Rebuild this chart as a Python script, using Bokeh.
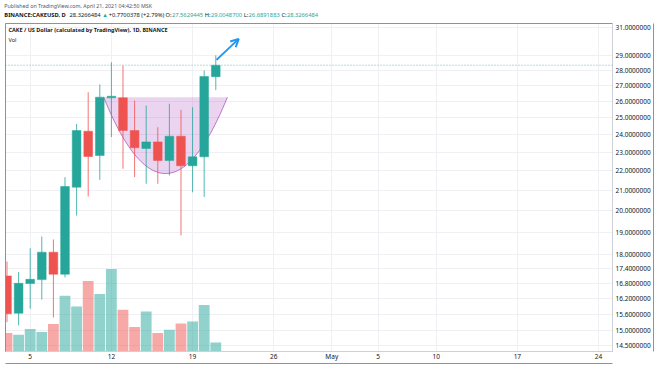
import pandas as pd
import numpy as np
from bokeh.plotting import figure
from bokeh.layouts import column
from bokeh.models import (ColumnDataSource, Range1d, LinearScale, FixedTicker, PrintfTickFormatter,
                          Label, Span, Arrow, OpenHead, LinearAxis)
from bokeh.core.properties import value
from bokeh.embed import file_html
from bokeh.resources import INLINE

# ---------------- data ----------------
dates = pd.date_range("2021-04-03", "2021-04-21", freq="D")
opens  = [17.11, 15.65, 16.80, 16.96, 18.11, 17.18, 21.16, 24.19, 22.82, 26.20, 26.20, 24.23, 23.21, 23.58, 22.55, 23.90, 22.27, 22.75, 27.5629445]
highs  = [17.71, 17.27, 18.28, 18.80, 18.67, 21.67, 24.62, 26.55, 27.05, 28.53, 28.31, 26.03, 25.72, 24.42, 25.83, 25.46, 25.62, 27.97, 29.0048700]
lows   = [15.32, 15.20, 15.82, 16.17, 15.49, 17.05, 19.77, 20.69, 21.53, 23.85, 22.11, 21.67, 21.33, 21.33, 21.76, 18.85, 20.90, 20.67, 26.6891883]
closes = [15.63, 16.81, 16.97, 18.11, 17.18, 21.19, 24.23, 22.77, 26.24, 26.30, 24.23, 23.25, 23.58, 22.55, 23.90, 22.27, 22.75, 27.57, 28.3266484]
volumes = [18.4, 16.7, 22.4, 19.4, 27.4, 55.7, 45.0, 70.4, 57.4, 82.4, 41.7, 24.4, 40.0, 18.4, 21.7, 28.0, 30.0, 46.4, 9.0]

price_ticks = [14.5, 15.0, 15.6, 16.2, 16.8, 17.4, 18, 19, 20, 21, 22, 23, 24, 25, 26, 27, 28, 29, 31]
date_ticks = ["2021-04-05", "2021-04-12", "2021-04-19", "2021-04-26", "2021-05-01",
              "2021-05-05", "2021-05-10", "2021-05-17", "2021-05-24"]
date_tick_labels = ["5", "12", "19", "26", "May", "5", "10", "17", "24"]

view_dates = ["2021-04-02 20:54", "2021-05-25 04:50"]
view_prices = [14.28, 31.30]
vol_view = [0, 328]

last_price = 28.3266484
cup_dates = ["2021-04-11 08:00", "2021-04-16 16:00", "2021-04-22 00:00"]   # rim start, bottom, rim end
cup_prices = [26.24, 21.86, 26.24]
arrow_dates = ["2021-04-21 01:30", "2021-04-22 23:30"]
arrow_prices = [28.69, 30.17]

header1 = "Published on TradingView.com, April 21, 2021 04:42:50 MSK"
header2 = [("BINANCE:CAKEUSD, D", "dark"), ("28.3266484", "dark"), ("\u25b2", "up"),
           ("+0.7700378 (+2.79%)", "dark"), ("O:", "dark"), ("27.5629445", "up"),
           ("H:", "dark"), ("29.0048700", "up"), ("L:", "dark"), ("26.6891883", "up"),
           ("C:", "dark"), ("28.3266484", "up")]
legend1 = "CAKE / US Dollar (calculated by TradingView), 1D, BINANCE"
legend2 = "Vol"

# ---------------- styling ----------------
UP = "#26a69a"
DOWN = "#ef5350"
DARK = "#131722"
BORDER = "#8f9299"
SEP = "#cdd0d6"
FONT = "Noto Sans"
DAY = 86400000.0

def ms(s):
    return pd.Timestamp(s).value / 1e6

# ---------------- header strip ----------------
W = {**{c: 0.572 for c in "0123456789+"}, ".": 0.27, ":": 0.27, ",": 0.25, " ": 0.26,
     "(": 0.3, ")": 0.3, "%": 0.82, "/": 0.37, "\u25b2": 0.77,
     "B": 0.63, "I": 0.28, "N": 0.75, "A": 0.63, "C": 0.63, "E": 0.56, "K": 0.62, "U": 0.73,
     "S": 0.55, "D": 0.71, "O": 0.78, "H": 0.74, "L": 0.52}

def tw(s, size):
    return sum(W.get(ch, 0.55) for ch in s) * size

hp = figure(width=654, height=23, x_range=Range1d(0, 654), y_range=Range1d(23, 0),
            output_backend="svg", toolbar_location=None, x_axis_location=None,
            y_axis_location=None, min_border=0)
hp.outline_line_color = None
hp.grid.visible = False
hp.text(x=[3], y=[5.5], text=[header1], text_font=value(FONT), text_font_size="5.3px",
        text_color="#50535e", text_baseline="middle")
HS = 5.75
hx, ht, hc = [], [], []
xpos = 3.0
for i, (s, c) in enumerate(header2):
    hx.append(xpos)
    ht.append(s)
    hc.append(UP if c == "up" else DARK)
    xpos += tw(s, HS) * (1.16 if i == 0 else 1.06) + (0.4 if s.endswith(":") else 0.26 * HS + 0.6)
hp.text(x=hx[:1], y=[14.5], text=ht[:1], text_font=value(FONT), text_font_size="%gpx" % HS,
        text_color=hc[0], text_baseline="middle", text_font_style="bold")
hp.text(x=hx[1:], y=[14.5] * (len(hx) - 1), text=ht[1:], text_font=value(FONT),
        text_font_size="%gpx" % HS, text_color=hc[1:], text_baseline="middle")

# ---------------- main chart ----------------
up = [c >= o for o, c in zip(opens, closes)]
src = ColumnDataSource(dict(
    date=dates, open=opens, high=highs, low=lows, close=closes,
    top=[max(o, c) for o, c in zip(opens, closes)],
    bottom=[min(o, c) for o, c in zip(opens, closes)],
    color=[UP if u else DOWN for u in up],
    vol=volumes,
))

p = figure(width=650, height=342, x_axis_type="datetime", y_axis_type="log",
           y_axis_location="right",
           x_range=Range1d(ms(view_dates[0]), ms(view_dates[1])),
           y_range=Range1d(view_prices[0], view_prices[1]),
           output_backend="svg", toolbar_location=None,
           min_border_left=1, min_border_right=42, min_border_top=0, min_border_bottom=14)
p.margin = (0, 0, 0, 4)
p.extra_y_ranges = {"vol": Range1d(vol_view[0], vol_view[1])}
p.extra_y_scales = {"vol": LinearScale()}
p.outline_line_color = SEP
p.background_fill_color = "white"
p.border_fill_color = "white"

p.xgrid.grid_line_color = "#eef0f4"
p.ygrid.grid_line_color = "#eef0f4"

ya = p.yaxis[0]
ya.ticker = FixedTicker(ticks=price_ticks)
ya.formatter = PrintfTickFormatter(format="%.7f")
ya.major_tick_line_color = None
ya.minor_tick_line_color = None
ya.major_tick_out = 0
ya.major_tick_in = 0
ya.major_label_standoff = 3
ya.axis_line_color = SEP
ya.major_label_text_font = FONT
ya.major_label_text_font_size = "6.5px"
ya.major_label_text_color = DARK

xa = p.xaxis[0]
tick_ms = [int(ms(d)) for d in date_ticks]
xa.ticker = FixedTicker(ticks=tick_ms)
xa.major_label_overrides = {t: l for t, l in zip(tick_ms, date_tick_labels)}
xa.major_tick_line_color = None
xa.minor_tick_line_color = None
xa.major_tick_out = 0
xa.major_tick_in = 0
xa.major_label_standoff = 0
xa.axis_line_color = SEP
xa.major_label_text_font = FONT
xa.major_label_text_font_size = "6.5px"
xa.major_label_text_color = DARK

# outer chart border drawn with label-less axes
def border_axis():
    return LinearAxis(ticker=FixedTicker(ticks=[]), axis_line_color=BORDER, axis_line_width=1,
                      major_tick_line_color=None, minor_tick_line_color=None,
                      major_tick_out=0, major_tick_in=0, minor_tick_out=0, minor_tick_in=0,
                      major_label_standoff=0, major_label_text_font_size="0px")

for side in ("left", "above", "right", "below"):
    p.add_layout(border_axis(), side)

# volume
p.vbar(x="date", width=0.93 * DAY, top="vol", bottom=0, fill_color="color", fill_alpha=0.5,
       line_color=None, y_range_name="vol", source=src)

# cup (quadratic curve in time / log-price space)
x0, xb, x2 = [ms(d) for d in cup_dates]
l0, lb, l2 = [np.log(v) for v in cup_prices]
xc = 2 * xb - (x0 + x2) / 2
lc = 2 * lb - (l0 + l2) / 2
t = np.linspace(0, 1, 80)
cx = (1 - t) ** 2 * x0 + 2 * t * (1 - t) * xc + t ** 2 * x2
cy = np.exp((1 - t) ** 2 * l0 + 2 * t * (1 - t) * lc + t ** 2 * l2)
p.patch(x=cx, y=cy, fill_color="#9c27b0", fill_alpha=0.2, line_color=None)
p.line(x=cx, y=cy, line_color="#9c27b0", line_alpha=0.6, line_width=1)

# candles
p.segment(x0="date", y0="high", x1="date", y1="low", line_color="color", line_width=1,
          line_alpha=0.8, source=src)
p.vbar(x="date", width=0.75 * DAY, top="top", bottom="bottom", fill_color="color",
       line_color="color", line_width=0.5, source=src)

# last price line + tag
p.add_layout(Span(location=last_price, dimension="width", line_color=UP, line_alpha=0.7,
                  line_dash="1 2", line_width=1))
p.add_layout(Label(x=608, x_units="screen", y=last_price, text="%.7f" % last_price,
                   text_font=FONT, text_font_size="6.5px", text_color="white",
                   text_baseline="middle", background_fill_color=UP))

# arrow
p.add_layout(Arrow(end=OpenHead(size=8, line_color="#2196f3", line_width=2),
                   x_start=ms(arrow_dates[0]), y_start=arrow_prices[0],
                   x_end=ms(arrow_dates[1]), y_end=arrow_prices[1],
                   line_color="#2196f3", line_width=2))

# legend texts inside pane
PH = 328
p.add_layout(Label(x=3, y=PH - 6.5, x_units="screen", y_units="screen", text=legend1,
                   text_font=FONT, text_font_size="5.5px", text_color=DARK,
                   text_baseline="middle", text_font_style="bold"))
p.add_layout(Label(x=3, y=PH - 16.5, x_units="screen", y_units="screen", text=legend2,
                   text_font=FONT, text_font_size="5.5px", text_color=DARK,
                   text_baseline="middle"))

layout = column(hp, p, spacing=0)
open("out.html", "w").write(file_html(layout, INLINE))
